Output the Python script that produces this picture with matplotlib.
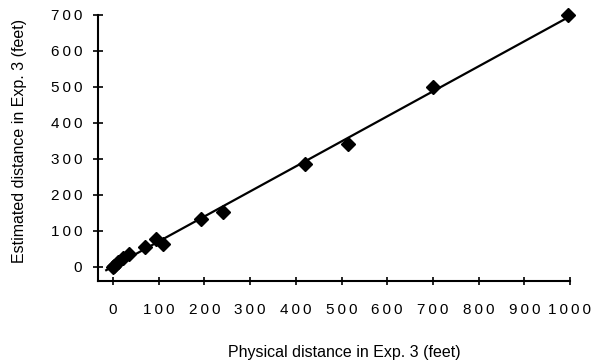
import matplotlib
matplotlib.use('Agg')
import matplotlib.pyplot as plt
import numpy as np

# Data
physical = [0, 3, 10, 22, 35, 70, 95, 110, 192, 240, 420, 515, 700, 995]
estimated = [0, 3, 14, 25, 35, 55, 78, 65, 132, 152, 287, 342, 500, 700]

x_ticks = [0, 100, 200, 300, 400, 500, 600, 700, 800, 900, 1000]
y_ticks = [0, 100, 200, 300, 400, 500, 600, 700]

SP = '\u2009'


def spaced(v):
    return SP.join(str(v))


plt.rcParams['font.family'] = ['Liberation Sans', 'DejaVu Sans']

fig = plt.figure(figsize=(6.04, 3.64), dpi=100)
ax = fig.add_axes([98 / 604, 83 / 364, 472 / 604, 266 / 364])

# regression line
slope, icpt = np.polyfit(physical, estimated, 1)
lx = np.array([-15, 995])
ax.plot(lx, slope * lx + icpt, color='black', lw=1.6, zorder=2,
        clip_on=False)

ax.plot(physical, estimated, linestyle='none', marker='D', markersize=7.5,
        color='black', zorder=3, clip_on=False)

ax.set_xlim(-33, 1000)
ax.set_ylim(-39, 700)

ax.set_xticks(x_ticks)
ax.set_xticklabels([spaced(v) for v in x_ticks], fontsize=11)
ax.set_yticks(y_ticks)
ax.set_yticklabels([spaced(v) for v in y_ticks], fontsize=11)

ax.tick_params(axis='x', direction='inout', length=6, width=1.2, pad=13)
ax.tick_params(axis='y', direction='inout', length=7, width=1.2, pad=8)

for side in ['top', 'right']:
    ax.spines[side].set_visible(False)
for side in ['left', 'bottom']:
    ax.spines[side].set_linewidth(1.5)

fig.text(344 / 604, 1 - 352 / 364, 'Physical distance in Exp. 3 (feet)',
         ha='center', va='center', fontsize=11.5)
fig.text(20 / 604, 1 - 141 / 364, 'Estimated distance in Exp. 3 (feet)',
         ha='center', va='center', rotation=90, fontsize=11.5)

fig.savefig('out.png', dpi=100)
